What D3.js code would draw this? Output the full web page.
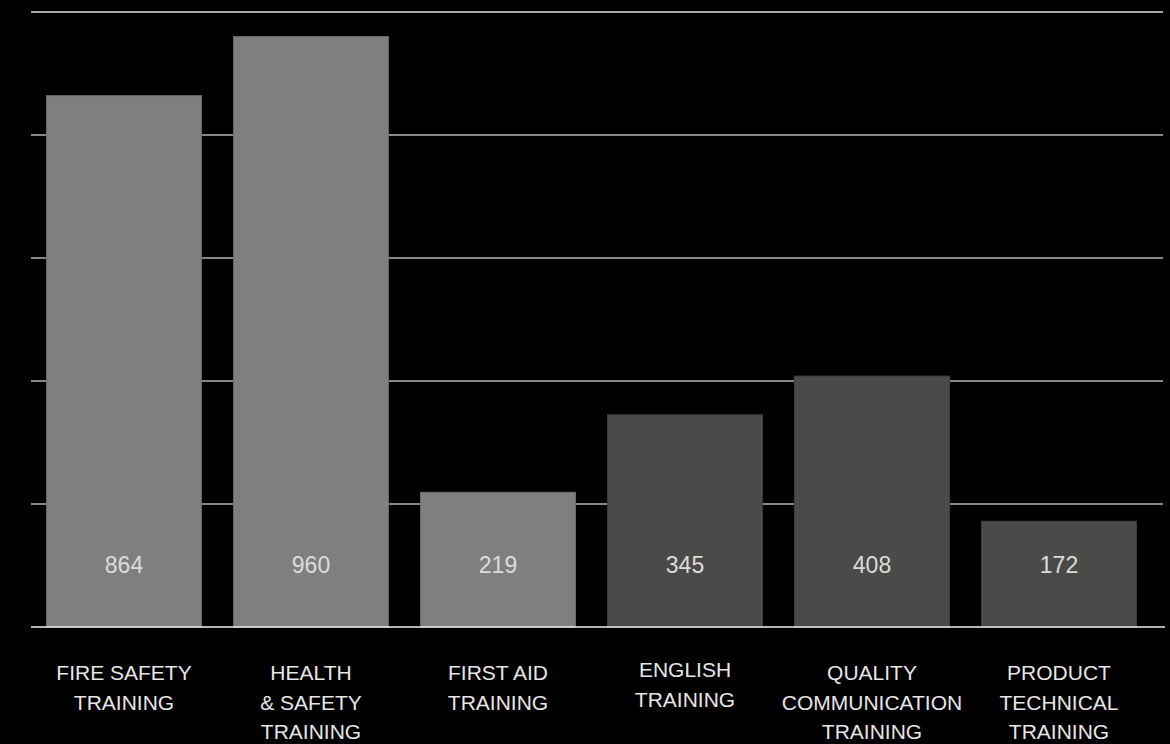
<!DOCTYPE html>
<html><head><meta charset="utf-8">
<script src="https://cdn.jsdelivr.net/npm/d3@7"></script>
<style>html,body{margin:0;padding:0;background:#000;}svg{display:block;}</style>
</head><body><svg id="c" width="1170" height="744"></svg>
<script>
const categories = [
  ["FIRE SAFETY","TRAINING"],
  ["HEALTH","& SAFETY","TRAINING"],
  ["FIRST AID","TRAINING"],
  ["ENGLISH","TRAINING"],
  ["QUALITY","COMMUNICATION","TRAINING"],
  ["PRODUCT","TECHNICAL","TRAINING"]
];
const values = [864, 960, 219, 345, 408, 172];
const barColors = ["#7f7f7f","#7f7f7f","#7f7f7f","#4a4a48","#4a4a48","#4a4a48"];
const yTicks = [0, 200, 400, 600, 800, 1000];

const svg = d3.select("#c");
svg.append("rect").attr("width",1170).attr("height",744).attr("fill","#000");

const x = d3.scaleBand().domain(d3.range(values.length)).range([30.5, 1152.5]).paddingInner(0.171).paddingOuter(0.0855);
const y = d3.scaleLinear().domain([0, 1000]).range([627, 12]);

const font = "'Liberation Sans', Helvetica, Arial, sans-serif";

// gridlines
svg.append("g").selectAll("line").data(yTicks.filter(d => d > 0)).join("line")
  .attr("x1", 31).attr("x2", 1163)
  .attr("y1", d => y(d)).attr("y2", d => y(d))
  .attr("stroke", d => d === 1000 ? "#e0e0e0" : "#b4b4b4")
  .attr("stroke-width", 1.6);

// bars
svg.append("g").selectAll("rect").data(values).join("rect")
  .attr("x", (d,i) => x(i)).attr("width", x.bandwidth())
  .attr("y", d => y(d)).attr("height", d => y(0) - y(d))
  .attr("fill", (d,i) => barColors[i])
  .attr("stroke", (d,i) => i < 3 ? "#6a6a6a" : "#3e3e3c").attr("stroke-width", 1);

// baseline
svg.append("line").attr("x1", 31).attr("x2", 1165).attr("y1", y(0)).attr("y2", y(0))
  .attr("stroke", "#f0f0f0").attr("stroke-width", 1.6);

// value labels
svg.append("g").selectAll("text").data(values).join("text")
  .attr("x", (d,i) => x(i) + x.bandwidth()/2).attr("y", 565)
  .attr("dy", "0.35em").attr("text-anchor", "middle")
  .attr("font-family", font).attr("font-size", 23).attr("fill", "#dcdcdc")
  .text(d => d);

// category labels
const lab = svg.append("g").selectAll("text").data(categories).join("text")
  .attr("text-anchor", "middle")
  .attr("font-family", font).attr("font-size", 21).attr("fill", "#e6e6e6")
  .attr("transform", (d,i) => `translate(${x(i) + x.bandwidth()/2},${i === 3 ? 677 : 680})`);
lab.selectAll("tspan").data(d => d).join("tspan")
  .attr("x", 0).attr("y", (d,j) => j * 29.5)
  .text(d => d);
</script></body></html>
